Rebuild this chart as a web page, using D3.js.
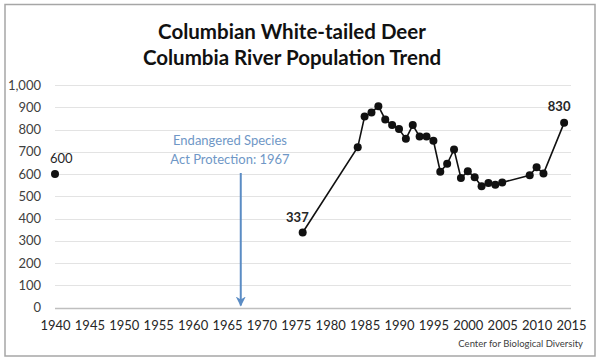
<!DOCTYPE html>
<html>
<head>
<meta charset="utf-8">
<script src="https://cdnjs.cloudflare.com/ajax/libs/d3/7.8.5/d3.min.js"></script>
<style>
  body { margin: 0; background: #fff; }
  svg { display: block; font-family: Lato, "Open Sans", sans-serif; }
</style>
</head>
<body>
<div id="chart"></div>
<script>
// data
const years = [1940, 1976, 1984, 1985, 1986, 1987, 1988, 1989, 1990, 1991, 1992, 1993, 1994, 1995,
               1996, 1997, 1998, 1999, 2000, 2001, 2002, 2003, 2004, 2005, 2009, 2010, 2011, 2014];
const deer = [600, 337, 720, 858, 876, 905, 845, 820, 802, 758, 820, 768, 768, 750,
              610, 646, 710, 582, 612, 585, 545, 560, 552, 562, 594, 630, 602, 830];
const labelled = [1940, 1976, 2014];   // points with a value label
const xTicks = d3.range(1940, 2016, 5);
const yTicks = d3.range(0, 1001, 100);
const titleLines = ["Columbian White-tailed Deer", "Columbia River Population Trend"];
const noteLines = ["Endangered Species", "Act Protection: 1967"];
const noteYear = 1967;
const source = "Center for Biological Diversity";

const width = 601, height = 361;
const svg = d3.select("#chart").append("svg")
  .attr("width", width).attr("height", height);

// outer frame
svg.append("rect")
  .attr("x", 5).attr("y", 4.5).attr("width", 590).attr("height", 351.5)
  .attr("fill", "#fff").attr("stroke", "#a6a6a6").attr("stroke-width", 1.5);

const x = d3.scaleLinear().domain([1940, 2015]).range([55, 571]);
const y = d3.scaleLinear().domain([0, 1000]).range([307.5, 85]);

// gridlines
svg.append("g").selectAll("line")
  .data(yTicks)
  .join("line")
  .attr("x1", x(1940)).attr("x2", x(2015))
  .attr("y1", d => Math.round(y(d)) + 0.5).attr("y2", d => Math.round(y(d)) + 0.5)
  .attr("stroke", d => d === 0 ? "#bfbfbf" : "#e3e3e3")
  .attr("stroke-width", d => d === 0 ? 1.5 : 1);

// y axis labels
const yAxis = d3.axisLeft(y).tickValues(yTicks).tickSize(0).tickPadding(0)
  .tickFormat(d3.format(","));
svg.append("g")
  .attr("transform", "translate(41,0)")
  .call(yAxis)
  .call(g => g.select(".domain").remove())
  .call(g => g.selectAll("text").attr("fill", "#404040")
    .style("font-size", "13px").style("font-family", "Lato, sans-serif"));

// x axis labels
const xAxis = d3.axisBottom(x).tickValues(xTicks).tickSize(0).tickPadding(0)
  .tickFormat(d3.format("d"));
svg.append("g")
  .attr("transform", "translate(0,321)")
  .call(xAxis)
  .call(g => g.select(".domain").remove())
  .call(g => g.selectAll("text").attr("fill", "#262626")
    .style("font-size", "13px").style("font-family", "Lato, sans-serif"));

// title
svg.append("g").selectAll("text")
  .data(titleLines)
  .join("text")
  .attr("x", 292).attr("y", (d, i) => 39 + i * 25.5)
  .attr("text-anchor", "middle")
  .attr("font-size", 20.5).attr("font-weight", "bold").attr("fill", "#111")
  .text(d => d);

// annotation and arrow
const blue = "#5b8cc4";
svg.append("g").selectAll("text")
  .data(noteLines)
  .join("text")
  .attr("x", 230).attr("y", (d, i) => 145 + i * 18.5)
  .attr("text-anchor", "middle")
  .attr("font-size", 13).attr("fill", "#6f97c6")
  .text(d => d);

svg.append("defs").append("marker")
  .attr("id", "arrow").attr("viewBox", "0 0 10 10")
  .attr("refX", 9).attr("refY", 5)
  .attr("markerWidth", 5).attr("markerHeight", 5)
  .attr("orient", "auto")
  .append("path").attr("d", "M0,0 L10,5 L0,10 L3,5 Z").attr("fill", blue);

svg.append("line")
  .attr("x1", x(noteYear)).attr("x2", x(noteYear))
  .attr("y1", 173).attr("y2", y(0) - 2)
  .attr("stroke", blue).attr("stroke-width", 2)
  .attr("marker-end", "url(#arrow)");

// series: 1940 stands alone, the rest is joined
const pts = years.map((yr, i) => ({ yr, v: deer[i] }));
const line = d3.line().x(d => x(d.yr)).y(d => y(d.v));
svg.append("path")
  .datum(pts.filter(d => d.yr >= 1976))
  .attr("d", line)
  .attr("fill", "none").attr("stroke", "#111").attr("stroke-width", 1.6);

svg.append("g").selectAll("circle")
  .data(pts)
  .join("circle")
  .attr("cx", d => x(d.yr)).attr("cy", d => y(d.v))
  .attr("r", 4).attr("fill", "#111");

// value labels
const labelPos = { 1940: [-5, -11, "start"], 1976: [6, -11, "end"], 2014: [-5, -12, "middle"] };
svg.append("g").selectAll("text")
  .data(pts.filter(d => labelled.includes(d.yr)))
  .join("text")
  .attr("x", d => x(d.yr) + labelPos[d.yr][0])
  .attr("y", d => y(d.v) + labelPos[d.yr][1])
  .attr("text-anchor", d => labelPos[d.yr][2])
  .attr("font-size", 13).attr("font-weight", d => d.yr === 1940 ? "normal" : "bold")
  .attr("fill", "#262626")
  .text(d => d.v);

// source note
svg.append("text")
  .attr("x", 583).attr("y", 347)
  .attr("text-anchor", "end")
  .attr("font-size", 9.5).attr("fill", "#404040")
  .text(source);
</script>
</body>
</html>
